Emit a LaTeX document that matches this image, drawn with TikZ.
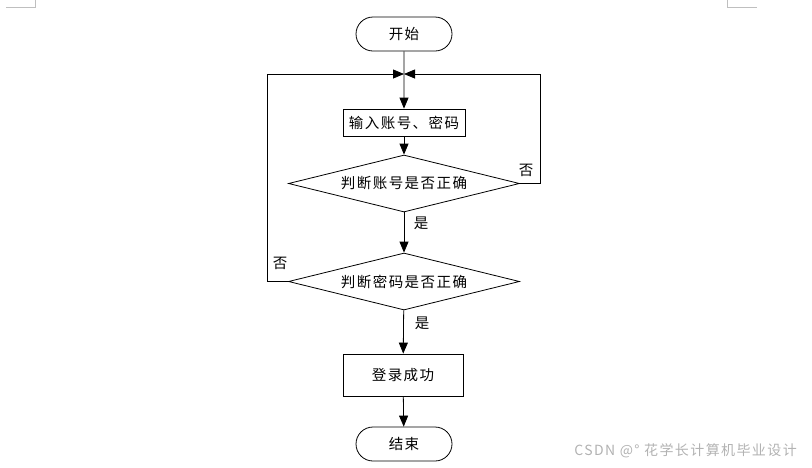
\documentclass[tikz,border=0pt]{standalone}
\usepackage{fontspec}
\setmainfont{Noto Sans CJK SC}
\newfontfamily\cjk[LetterSpace=10]{Noto Sans CJK SC}
\usetikzlibrary{shapes.geometric,shapes.misc,arrows.meta}
\begin{document}
\begin{tikzpicture}[x=1pt,y=-1pt,
  line width=0.8pt,
  font=\cjk\fontsize{14.5}{16}\selectfont,
  term/.style={draw,rounded rectangle,minimum width=96pt,minimum height=34pt,inner sep=0pt},
  proc/.style={draw,rectangle,inner sep=0pt},
  dec/.style={draw,diamond,aspect=4.05,minimum width=231pt,minimum height=57pt,inner sep=0pt},
  arr/.style={-{Triangle[length=11pt,width=9pt]}},
  lbl/.style={inner sep=0pt},
  cornermark/.style={draw=black!25,line width=0.8pt}]
\useasboundingbox (0,0) rectangle (812,467);
\draw[cornermark] (6,7) -- (35,7) -- (35,0);
\draw[cornermark] (727,0) -- (727,7) -- (757,7);
\node[term] (start) at (404,34) {开始};
\coordinate (j) at (404,74);
\node[proc,minimum width=122pt,minimum height=27pt] (input) at (404,122.5) {输入账号、密码};
\node[dec] (d1) at (404,183.5) {判断账号是否正确};
\node[dec] (d2) at (404,281.5) {判断密码是否正确};
\node[proc,minimum width=120pt,minimum height=42pt] (ok) at (403,375) {登录成功};
\node[term] (end) at (404,444) {结束};
\coordinate (r) at (540,74);
\coordinate (l) at (267,74);
\draw[arr] (start) -- (input);
\draw[arr] (input) -- (d1);
\draw[arr] (d1) -- (d2);
\draw[arr] (d2) -- (ok);
\draw[arr] (ok) -- (end);
\draw[arr] (d1.east) -| (r) -- (j);
\draw[arr] (d2.west) -| (l) -- (j);
\node[lbl] (n1) at (526,170) {否};
\node[lbl] (n2) at (280,263) {否};
\node[lbl] (y1) at (421,223) {是};
\node[lbl] (y2) at (422,323) {是};
\node[lbl,text=black!30,font=\cjk\fontsize{14}{16}\selectfont,anchor=west] (wm) at (574,451) {CSDN @\textdegree{} 花学长计算机毕业设计};
\end{tikzpicture}
\end{document}
